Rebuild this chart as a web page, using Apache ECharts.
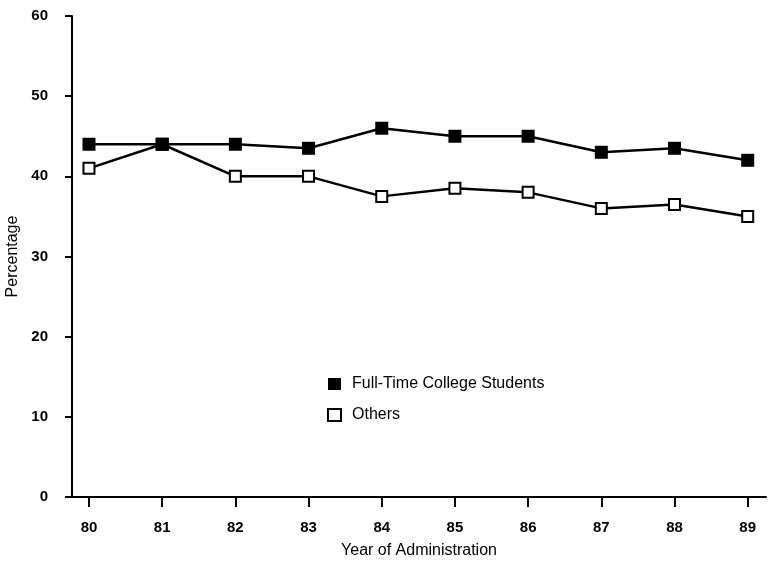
<!DOCTYPE html>
<html><head><meta charset="utf-8">
<script src="https://cdn.jsdelivr.net/npm/echarts@6/dist/echarts.min.js"></script>
<style>html,body{margin:0;padding:0;background:#fff}#c{width:768px;height:561px}</style>
</head><body><div id="c"></div>
<script>
const years = [80, 81, 82, 83, 84, 85, 86, 87, 88, 89];
const fullTime = [44, 44, 44, 43.5, 46, 45, 45, 43, 43.5, 42];
const others = [41, 44, 40, 40, 37.5, 38.5, 38, 36, 36.5, 35];
const yTicks = [0, 10, 20, 30, 40, 50, 60];
const seriesNames = ['Full-Time College Students', 'Others'];

const font = 'Liberation Sans, Arial, Helvetica, sans-serif';
const chart = echarts.init(document.getElementById('c'));
chart.setOption({
  animation: false,
  backgroundColor: '#fff',
  grid: { left: 72, right: 2, top: 16, bottom: 64, containLabel: false, outerBoundsMode: 'none' },
  xAxis: {
    type: 'value', min: 79.768, max: 89.25,
    name: 'Year of Administration', nameLocation: 'middle', nameGap: 46,
    nameTextStyle: { color: '#000', fontSize: 16, fontFamily: font },
    axisLine: { lineStyle: { color: '#000', width: 2 } },
    axisTick: { show: true, length: 10, customValues: years, lineStyle: { color: '#000', width: 2 } },
    axisLabel: { customValues: years, color: '#000', fontSize: 15, fontFamily: font, fontWeight: 'bold', margin: 23 },
    splitLine: { show: false }
  },
  yAxis: {
    type: 'value', min: 0, max: 60, interval: 10,
    name: 'Percentage', nameLocation: 'middle', nameGap: 47,
    nameTextStyle: { color: '#000', fontSize: 16, fontFamily: font },
    axisLine: { show: true, lineStyle: { color: '#000', width: 2 } },
    axisTick: { show: true, length: 7, lineStyle: { color: '#000', width: 2 } },
    axisLabel: { color: '#000', fontSize: 15, fontFamily: font, fontWeight: 'bold', margin: 24 },
    splitLine: { show: false }
  },
  legend: {
    orient: 'vertical', left: 322, top: 371, itemGap: 15,
    itemWidth: 13, itemHeight: 12,
    textStyle: { color: '#000', fontSize: 16, fontFamily: font, padding: [0, 0, 0, 6] },
    data: [
      { name: seriesNames[0], icon: 'rect', itemStyle: { color: '#000', borderWidth: 0 } },
      { name: seriesNames[1], icon: 'rect', itemStyle: { color: '#fff', borderColor: '#000', borderWidth: 2 } }
    ]
  },
  series: [
    {
      name: seriesNames[0], type: 'line',
      data: years.map((y, i) => [y, fullTime[i]]),
      symbol: 'rect', symbolSize: 13,
      lineStyle: { color: '#000', width: 2.5 },
      itemStyle: { color: '#000', borderWidth: 0 },
      z: 3
    },
    {
      name: seriesNames[1], type: 'line',
      data: years.map((y, i) => [y, others[i]]),
      symbol: 'rect', symbolSize: 11,
      lineStyle: { color: '#000', width: 2.5 },
      itemStyle: { color: '#fff', borderColor: '#000', borderWidth: 2 },
      z: 2
    }
  ]
});
</script></body></html>
